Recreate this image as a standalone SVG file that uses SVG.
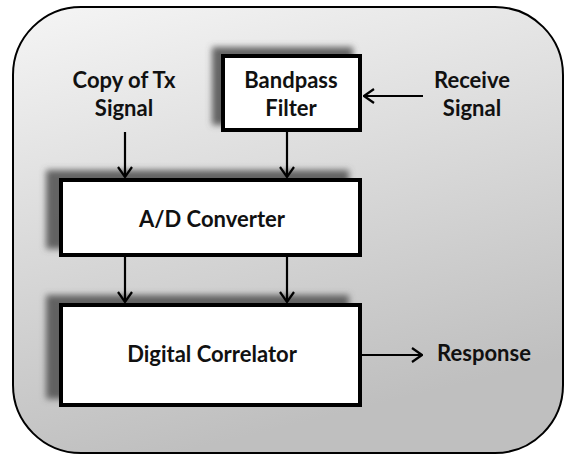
<svg xmlns="http://www.w3.org/2000/svg" width="565" height="455" viewBox="0 0 565 455">
<style>
.box{fill:#fff;stroke:#000;stroke-width:4}
.lbl{font-family:Lato,"Liberation Sans",Arial,sans-serif;font-weight:bold;font-size:22px;fill:#111;text-anchor:middle}
.conn{stroke:#000;stroke-width:2.2;fill:none;marker-end:url(#arr)}
</style>
<defs>
<linearGradient id="bg" x1="0" y1="0" x2="0.3" y2="1">
<stop offset="0" stop-color="#f5f5f5"/>
<stop offset="1" stop-color="#bfbfbf"/>
</linearGradient>
<filter id="shA" x="-20%" y="-30%" width="140%" height="160%">
<feGaussianBlur in="SourceAlpha" stdDeviation="3"/>
<feOffset dx="-13" dy="-8" result="b"/>
<feFlood flood-color="#555" flood-opacity="0.9"/>
<feComposite in2="b" operator="in"/>
<feMerge><feMergeNode/><feMergeNode in="SourceGraphic"/></feMerge>
</filter>
<filter id="shB" x="-30%" y="-30%" width="160%" height="160%">
<feGaussianBlur in="SourceAlpha" stdDeviation="3"/>
<feOffset dx="-9" dy="-7" result="b"/>
<feFlood flood-color="#555" flood-opacity="0.9"/>
<feComposite in2="b" operator="in"/>
<feMerge><feMergeNode/><feMergeNode in="SourceGraphic"/></feMerge>
</filter>
<marker id="arr" viewBox="0 0 12 16" refX="11" refY="8" markerWidth="12" markerHeight="16" markerUnits="userSpaceOnUse" orient="auto">
<path d="M1,1 L11,8 L1,15" fill="none" stroke="#000" stroke-width="2.2"/>
</marker>
</defs>
<rect id="frame" x="13" y="7" width="550" height="446" rx="68" ry="68" fill="url(#bg)" stroke="#000" stroke-width="2"/>
<g id="copy-tx">
<text class="lbl" x="124" y="88">Copy of Tx</text>
<text class="lbl" x="124" y="116">Signal</text>
</g>
<g id="receive">
<text class="lbl" x="472" y="88">Receive</text>
<text class="lbl" x="472" y="116">Signal</text>
</g>
<g id="bandpass">
<rect class="box" x="223" y="56" width="137" height="74" filter="url(#shB)"/>
<text class="lbl" x="291" y="88">Bandpass</text>
<text class="lbl" x="291" y="116">Filter</text>
</g>
<g id="adc">
<rect class="box" x="61" y="180" width="299" height="75" filter="url(#shA)"/>
<text class="lbl" x="212" y="227">A/D Converter</text>
</g>
<g id="correlator">
<rect class="box" x="61" y="305" width="299" height="100" filter="url(#shA)"/>
<text class="lbl" x="212" y="362">Digital Correlator</text>
</g>
<g id="response">
<text class="lbl" x="484" y="361">Response</text>
</g>
<g id="connectors">
<line class="conn" x1="423" y1="96" x2="364" y2="96"/>
<line class="conn" x1="125" y1="132" x2="125" y2="177"/>
<line class="conn" x1="287" y1="132" x2="287" y2="177"/>
<line class="conn" x1="125" y1="257" x2="125" y2="302"/>
<line class="conn" x1="287" y1="257" x2="287" y2="302"/>
<line class="conn" x1="362" y1="355" x2="422" y2="355"/>
</g>
</svg>
